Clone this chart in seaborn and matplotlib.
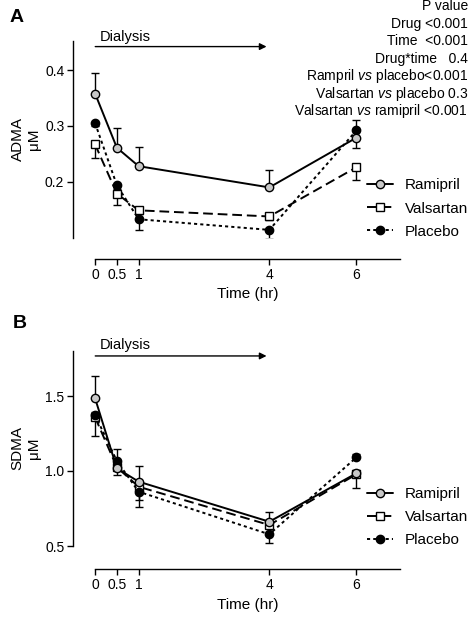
import matplotlib
matplotlib.use('Agg')
import matplotlib.pyplot as plt
import seaborn as sns

# time points (hr)
time = [0, 0.5, 1, 4, 6]
drugs = ['Ramipril', 'Valsartan', 'Placebo']

# Panel A - ADMA (uM)
adma_ramipril = [0.358, 0.261, 0.228, 0.190, 0.279]
adma_valsartan = [0.267, 0.179, 0.149, 0.138, 0.226]
adma_placebo = [0.305, 0.194, 0.133, 0.114, 0.292]
# one-sided error bars (lower, upper)
adma_ramipril_lo = [0, 0, 0, 0, 0.018]
adma_ramipril_hi = [0.037, 0.035, 0.035, 0.032, 0]
adma_valsartan_lo = [0.024, 0.021, 0.006, 0.006, 0.023]
adma_valsartan_hi = [0, 0, 0, 0, 0]
adma_placebo_lo = [0.006, 0.006, 0.020, 0.017, 0]
adma_placebo_hi = [0, 0, 0, 0, 0.018]

# Panel B - SDMA (uM)
sdma_ramipril = [1.485, 1.018, 0.929, 0.662, 0.985]
sdma_valsartan = [1.358, 1.025, 0.895, 0.640, 0.978]
sdma_placebo = [1.373, 1.067, 0.862, 0.578, 1.091]
sdma_ramipril_lo = [0, 0, 0, 0, 0]
sdma_ramipril_hi = [0.150, 0.02, 0.104, 0.063, 0.02]
sdma_valsartan_lo = [0.125, 0.052, 0.088, 0.02, 0.093]
sdma_valsartan_hi = [0, 0, 0, 0, 0]
sdma_placebo_lo = [0, 0, 0.100, 0.056, 0]
sdma_placebo_hi = [0.02, 0.078, 0, 0, 0.02]

xtick_labels = ['0', '0.5', '1', '4', '6']
pvalue_lines = ['P value', 'Drug <0.001', 'Time  <0.001', 'Drug*time   0.4',
                r'Rampril $\it{vs}$ placebo<0.001',
                r'Valsartan $\it{vs}$ placebo 0.3',
                r'Valsartan $\it{vs}$ ramipril <0.001']

sns.set_style('ticks')
plt.rcParams['font.family'] = ['Liberation Sans', 'DejaVu Sans']
plt.rcParams['mathtext.fontset'] = 'custom'
plt.rcParams['mathtext.rm'] = 'Liberation Sans'
plt.rcParams['mathtext.it'] = 'Liberation Sans:italic'
for key in ['text.color', 'axes.labelcolor', 'xtick.color', 'ytick.color', 'axes.edgecolor']:
    plt.rcParams[key] = 'black'

styles = {
    'Ramipril': dict(marker='o', markerfacecolor='#c8c8c8', linestyle='-'),
    'Valsartan': dict(marker='s', markerfacecolor='white', linestyle=(0, (5, 2.5))),
    'Placebo': dict(marker='o', markerfacecolor='black', linestyle=(0, (1.6, 1.6))),
}
zorders = {'Ramipril': 5, 'Valsartan': 3, 'Placebo': 4}

fig = plt.figure(figsize=(4.72, 6.18), dpi=100)
W, H = 472, 618
axA = fig.add_axes([73.3 / W, 1 - 237.7 / H, 326.7 / W, 196.7 / H])
axB = fig.add_axes([73.3 / W, 1 - 546 / H, 326.7 / W, 195 / H])


def draw_panel(ax, series, errs, ylim, yticks, yticklabels, ylabel, arrow_y, text_y, offset):
    for drug in drugs:
        lo, hi = errs[drug]
        ax.errorbar(time, series[drug], yerr=[lo, hi], fmt='none', ecolor='black',
                    elinewidth=1, capsize=3, capthick=1, zorder=zorders[drug] - 0.5)
    for drug in drugs:
        sns.lineplot(x=time, y=series[drug], ax=ax, color='black', lw=1.4,
                     markersize=6, markeredgecolor='black', markeredgewidth=1,
                     label=drug, zorder=zorders[drug], **styles[drug])
    ax.set_xlim(-0.5, 7)
    ax.set_ylim(*ylim)
    ax.spines['top'].set_visible(False)
    ax.spines['right'].set_visible(False)
    ax.spines['bottom'].set_bounds(0, 7)
    ax.spines['bottom'].set_position(('outward', offset))
    ax.spines['left'].set_linewidth(1)
    ax.spines['bottom'].set_linewidth(1)
    ax.set_xticks(time)
    ax.set_xticklabels(xtick_labels)
    ax.set_yticks(yticks)
    ax.set_yticklabels(yticklabels)
    ax.tick_params(axis='both', labelsize=10, length=4.5, width=1, pad=2, color='black')
    ax.set_xlabel('Time (hr)', fontsize=11, labelpad=4)
    ax.xaxis.label.set_x(0.535)
    ax.set_ylabel(ylabel, fontsize=11, labelpad=3)
    ax.annotate('', xy=(4.0, arrow_y), xytext=(-0.06, arrow_y),
                arrowprops=dict(arrowstyle='-|>', color='black', lw=1, mutation_scale=10),
                annotation_clip=False)
    ax.text(0.1, text_y, 'Dialysis', fontsize=10.5, va='center', ha='left', clip_on=False)
    ax.legend(loc='center left', bbox_to_anchor=(0.9, 0.148), frameon=False,
              fontsize=11, handlelength=1.7, handletextpad=0.75, labelspacing=0.6,
              borderpad=0, borderaxespad=0)


draw_panel(axA,
           {'Ramipril': adma_ramipril, 'Valsartan': adma_valsartan, 'Placebo': adma_placebo},
           {'Ramipril': (adma_ramipril_lo, adma_ramipril_hi),
            'Valsartan': (adma_valsartan_lo, adma_valsartan_hi),
            'Placebo': (adma_placebo_lo, adma_placebo_hi)},
           (0.1, 0.452), [0.2, 0.3, 0.4], ['0.2', '0.3', '0.4'], 'ADMA\nμM',
           0.442, 0.459, 15)

draw_panel(axB,
           {'Ramipril': sdma_ramipril, 'Valsartan': sdma_valsartan, 'Placebo': sdma_placebo},
           {'Ramipril': (sdma_ramipril_lo, sdma_ramipril_hi),
            'Valsartan': (sdma_valsartan_lo, sdma_valsartan_hi),
            'Placebo': (sdma_placebo_lo, sdma_placebo_hi)},
           (0.5, 1.8), [0.5, 1.0, 1.5], ['0.5', '1.0', '1.5'], 'SDMA\nμM',
           1.767, 1.84, 16.5)

# P value block (top right)
for i, line in enumerate(pvalue_lines):
    fig.text(468 / W, 1 - (6.2 + 17.55 * i) / H, line, fontsize=10, ha='right', va='center')

fig.text(17 / W, 1 - 17 / H, 'A', fontsize=14, fontweight='bold', ha='center', va='center')
fig.text(20 / W, 1 - 324 / H, 'B', fontsize=14, fontweight='bold', ha='center', va='center')

fig.savefig('out.png', dpi=100)
